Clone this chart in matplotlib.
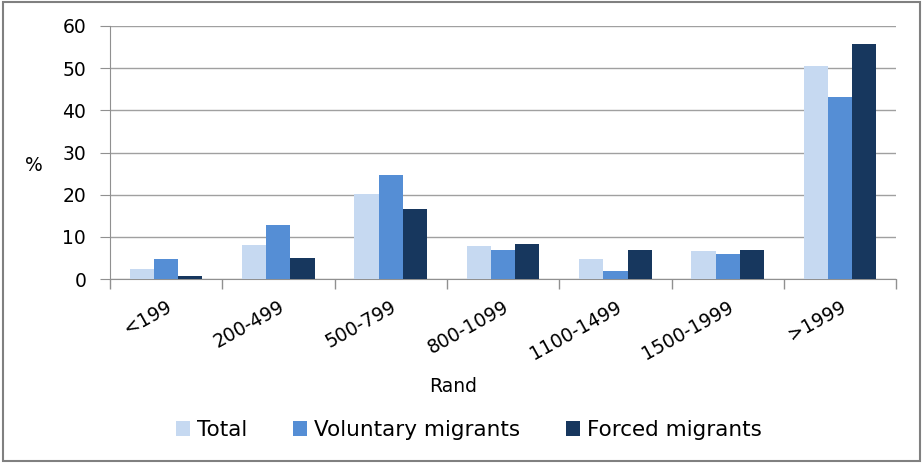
import numpy as np
import matplotlib.pyplot as plt
from matplotlib.patches import Rectangle

categories = ["<199", "200-499", "500-799", "800-1099", "1100-1499", "1500-1999", ">1999"]
total = [2.4, 8.0, 20.1, 7.8, 4.8, 6.6, 50.4]
voluntary = [4.8, 12.8, 24.6, 6.9, 1.9, 5.9, 43.1]
forced = [0.8, 5.0, 16.6, 8.3, 6.9, 6.9, 55.7]
series_names = ["Total", "Voluntary migrants", "Forced migrants"]
colors = ["#C6D9F1", "#558ED5", "#17375E"]

plt.rcParams['font.family'] = ['DejaVu Sans']
fs = 13.5

fig = plt.figure(figsize=(9.23, 4.63), dpi=100)
ax = fig.add_axes([0.119, 0.397, 0.852, 0.547])

x = np.arange(len(categories))
w = 0.216
for i, (vals, name, c) in enumerate(zip([total, voluntary, forced], series_names, colors)):
    ax.bar(x + (i - 1) * w, vals, width=w, color=c, label=name, zorder=3)

ax.set_ylim(0, 60)
ax.set_xlim(-0.5, len(categories) - 0.5)
ax.set_yticks(range(0, 61, 10))
ax.yaxis.grid(True, color="#A0A0A0", linewidth=1, zorder=0)
ax.set_axisbelow(True)

ax.set_xticks(x)
ax.set_xticklabels(categories, rotation=29, ha="right", va="top",
                   rotation_mode="anchor", fontsize=fs)
ax.tick_params(axis="x", length=0, pad=13)
ax.set_xticks(np.arange(-0.5, len(categories), 1), minor=True)
ax.tick_params(axis="x", which="minor", length=7, color="#909090", width=1)
ax.tick_params(axis="y", length=7, color="#909090", labelsize=fs, pad=10)

for s in ["top", "right"]:
    ax.spines[s].set_visible(False)
for s in ["left", "bottom"]:
    ax.spines[s].set_color("#909090")

ax.set_xlabel("Rand", fontsize=fs)
ax.xaxis.set_label_coords(0.437, -0.385)
ax.set_ylabel("%", fontsize=fs, rotation=0, va="center", ha="center")
ax.yaxis.set_label_coords(-0.097, 0.45)

fig.legend(loc="center", ncol=3, frameon=False, fontsize=15.5,
           bbox_to_anchor=(0.508, 0.071), handlelength=0.65, handleheight=0.65,
           columnspacing=2.1, handletextpad=0.35)

fig.patches.append(Rectangle((0.003, 0.005), 0.994, 0.99, transform=fig.transFigure,
                             fill=False, edgecolor="#808080", linewidth=1.5))

fig.savefig("out.png", dpi=100)
